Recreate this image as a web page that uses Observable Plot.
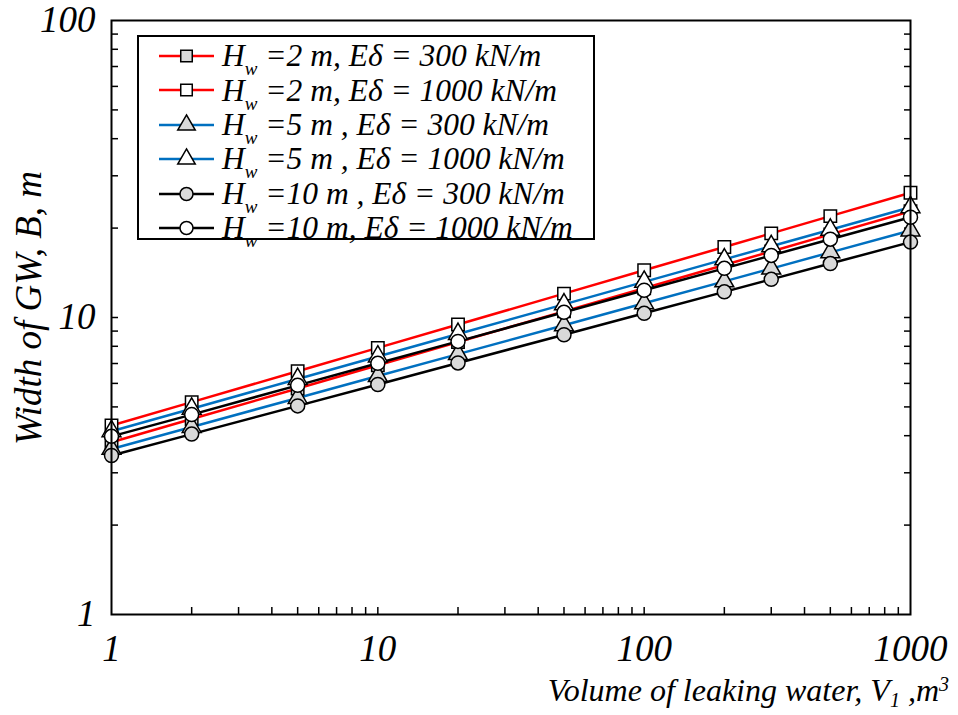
<!DOCTYPE html>
<html><head><meta charset="utf-8">
<script src="https://cdn.jsdelivr.net/npm/d3@7"></script>
<script src="https://cdn.jsdelivr.net/npm/@observablehq/plot@0.6"></script>
<style>
body{margin:0;background:#fff;}
#wrap{position:relative;width:958px;height:715px;font-family:"Liberation Serif","Times New Roman","DejaVu Serif",serif;font-style:italic;color:#000;}
#wrap svg.plot{position:absolute;left:0;top:0;}
.ylab{position:absolute;left:28px;top:308px;transform:translate(-50%,-50%) rotate(-90deg);white-space:nowrap;font-size:37px;line-height:1;}
.xlab{position:absolute;right:9px;top:674px;white-space:nowrap;font-size:32px;line-height:1;}
.xlab sub{font-size:20px;vertical-align:-6px;line-height:0;}
.xlab sup{font-size:20px;vertical-align:10px;line-height:0;}
#legend{position:absolute;left:137px;top:35px;width:458px;height:205px;border:2px solid #000;background:#fff;box-sizing:border-box;}
.row{position:absolute;left:0;height:34px;display:flex;align-items:center;font-size:31.5px;white-space:nowrap;line-height:1;}
.row svg{margin-left:20px;margin-right:8px;}
.row sub{font-size:19px;vertical-align:-9px;line-height:0;}
</style></head><body><div id="wrap"></div>
<script>
// ---- data ----
const volumes = [1, 2, 5, 10, 20, 50, 100, 200, 300, 500, 1000];
const hw2_e300  = [3.80, 4.55, 5.77, 6.91, 8.27, 10.49, 12.55, 15.03, 16.69, 19.05, 22.80];
const hw2_e1000 = [4.33, 5.19, 6.59, 7.90, 9.47, 12.03, 14.42, 17.28, 19.20, 21.95, 26.30];
const hw5_e300  = [3.61, 4.28, 5.36, 6.35, 7.53, 9.42, 11.17, 13.23, 14.61, 16.57, 19.63];
const hw5_e1000 = [4.14, 4.93, 6.21, 7.39, 8.80, 11.07, 13.18, 15.69, 17.38, 19.75, 23.52];
const hw10_e300 = [3.43, 4.05, 5.04, 5.95, 7.03, 8.75, 10.33, 12.20, 13.44, 15.19, 17.94];
const hw10_e1000= [3.98, 4.71, 5.91, 7.01, 8.31, 10.41, 12.35, 14.64, 16.18, 18.35, 21.76];

const seriesValues = [hw2_e300, hw2_e1000, hw5_e300, hw5_e1000, hw10_e300, hw10_e1000];
const seriesLabels = ["=2 m, Eδ = 300 kN/m", "=2 m, Eδ = 1000 kN/m", "=5 m , Eδ = 300 kN/m",
                      "=5 m , Eδ = 1000 kN/m", "=10 m , Eδ = 300 kN/m", "=10 m, Eδ = 1000 kN/m"];
const seriesColors = ["#FF0000", "#FF0000", "#0070C0", "#0070C0", "#000000", "#000000"];
const seriesSymbols = ["square", "square", "triangle", "triangle", "circle", "circle"];
const seriesFills = ["#D9D9D9", "#FFFFFF", "#D9D9D9", "#FFFFFF", "#D9D9D9", "#FFFFFF"];

const xTickLabels = [1, 10, 100, 1000];
const yTickLabels = [1, 10, 100];
const xMinorTicks = [2,3,4,5,6,7,8,9,10,20,30,40,50,60,70,80,90,100,200,300,400,500,600,700,800,900];
const yMinorTicks = [2,3,4,5,6,7,8,9,10,20,30,40,50,60,70,80,90];

const xLabelHTML = "Volume of leaking water, V<sub>1</sub> ,m<sup>3</sup>";
const yLabelText = "Width of GW, B, m";

// ---- build ----
const marks = [];
seriesValues.forEach((vals, i) => {
  const rows = volumes.map((v, j) => ({x: v, y: vals[j]}));
  marks.push(Plot.line(rows, {x: "x", y: "y", stroke: seriesColors[i], strokeWidth: 2.5}));
});
seriesValues.forEach((vals, i) => {
  const rows = volumes.map((v, j) => ({x: v, y: vals[j]}));
  marks.push(Plot.dot(rows, {x: "x", y: "y", symbol: seriesSymbols[i], fill: seriesFills[i], stroke: "#000", strokeWidth: 1.5, r: 7}));
});

const chart = Plot.plot({
  width: 958, height: 715,
  marginLeft: 111, marginRight: 48, marginTop: 20, marginBottom: 101,
  style: {fontFamily: "'Liberation Serif', 'Times New Roman', 'DejaVu Serif', serif", fontStyle: "italic", fontSize: "37px", background: "transparent", color: "#000"},
  x: {type: "log", domain: [1, 1000]},
  y: {type: "log", domain: [1, 100]},
  marks: [
    Plot.axisX(xMinorTicks, {anchor: "bottom", tickSize: 7, dy: -7, tickFormat: () => "", label: null, strokeWidth: 1.5}),
    Plot.axisY(yMinorTicks, {anchor: "left", tickSize: 7, dx: 7, tickFormat: () => "", label: null, strokeWidth: 1.5}),
    Plot.axisY(yMinorTicks, {anchor: "right", tickSize: 7, dx: -7, tickFormat: () => "", label: null, strokeWidth: 1.5}),
    Plot.axisX(xTickLabels, {anchor: "bottom", tickSize: 0, tickPadding: 20, tickFormat: d => String(d), label: null}),
    Plot.axisY(yTickLabels, {anchor: "left", tickSize: 0, tickPadding: 16, tickFormat: d => String(d), label: null}),
    ...marks,
    Plot.frame({stroke: "#000", strokeWidth: 2})
  ]
});
chart.classList.add("plot");
const wrap = document.getElementById("wrap");
wrap.appendChild(chart);

const yl = document.createElement("div"); yl.className = "ylab"; yl.textContent = yLabelText; wrap.appendChild(yl);
const xl = document.createElement("div"); xl.className = "xlab"; xl.innerHTML = xLabelHTML; wrap.appendChild(xl);

const legend = document.createElement("div"); legend.id = "legend"; wrap.appendChild(legend);
seriesLabels.forEach((lab, i) => {
  const row = document.createElement("div"); row.className = "row";
  row.style.top = (2 + i * 34.4) + "px";
  const svg = d3.create("svg").attr("width", 55).attr("height", 30);
  svg.append("line").attr("x1", 0).attr("x2", 55).attr("y1", 15).attr("y2", 15).attr("stroke", seriesColors[i]).attr("stroke-width", 2.5);
  const sym = {square: d3.symbolSquare, triangle: d3.symbolTriangle, circle: d3.symbolCircle}[seriesSymbols[i]];
  svg.append("path").attr("d", d3.symbol(sym, Math.PI * 6.5 * 6.5)()).attr("transform", "translate(27.5,15)")
     .attr("fill", seriesFills[i]).attr("stroke", "#000").attr("stroke-width", 1.5);
  row.appendChild(svg.node());
  const t = document.createElement("span");
  t.innerHTML = "H<sub>w</sub> " + lab;
  row.appendChild(t);
  legend.appendChild(row);
});
</script>
</body></html>
